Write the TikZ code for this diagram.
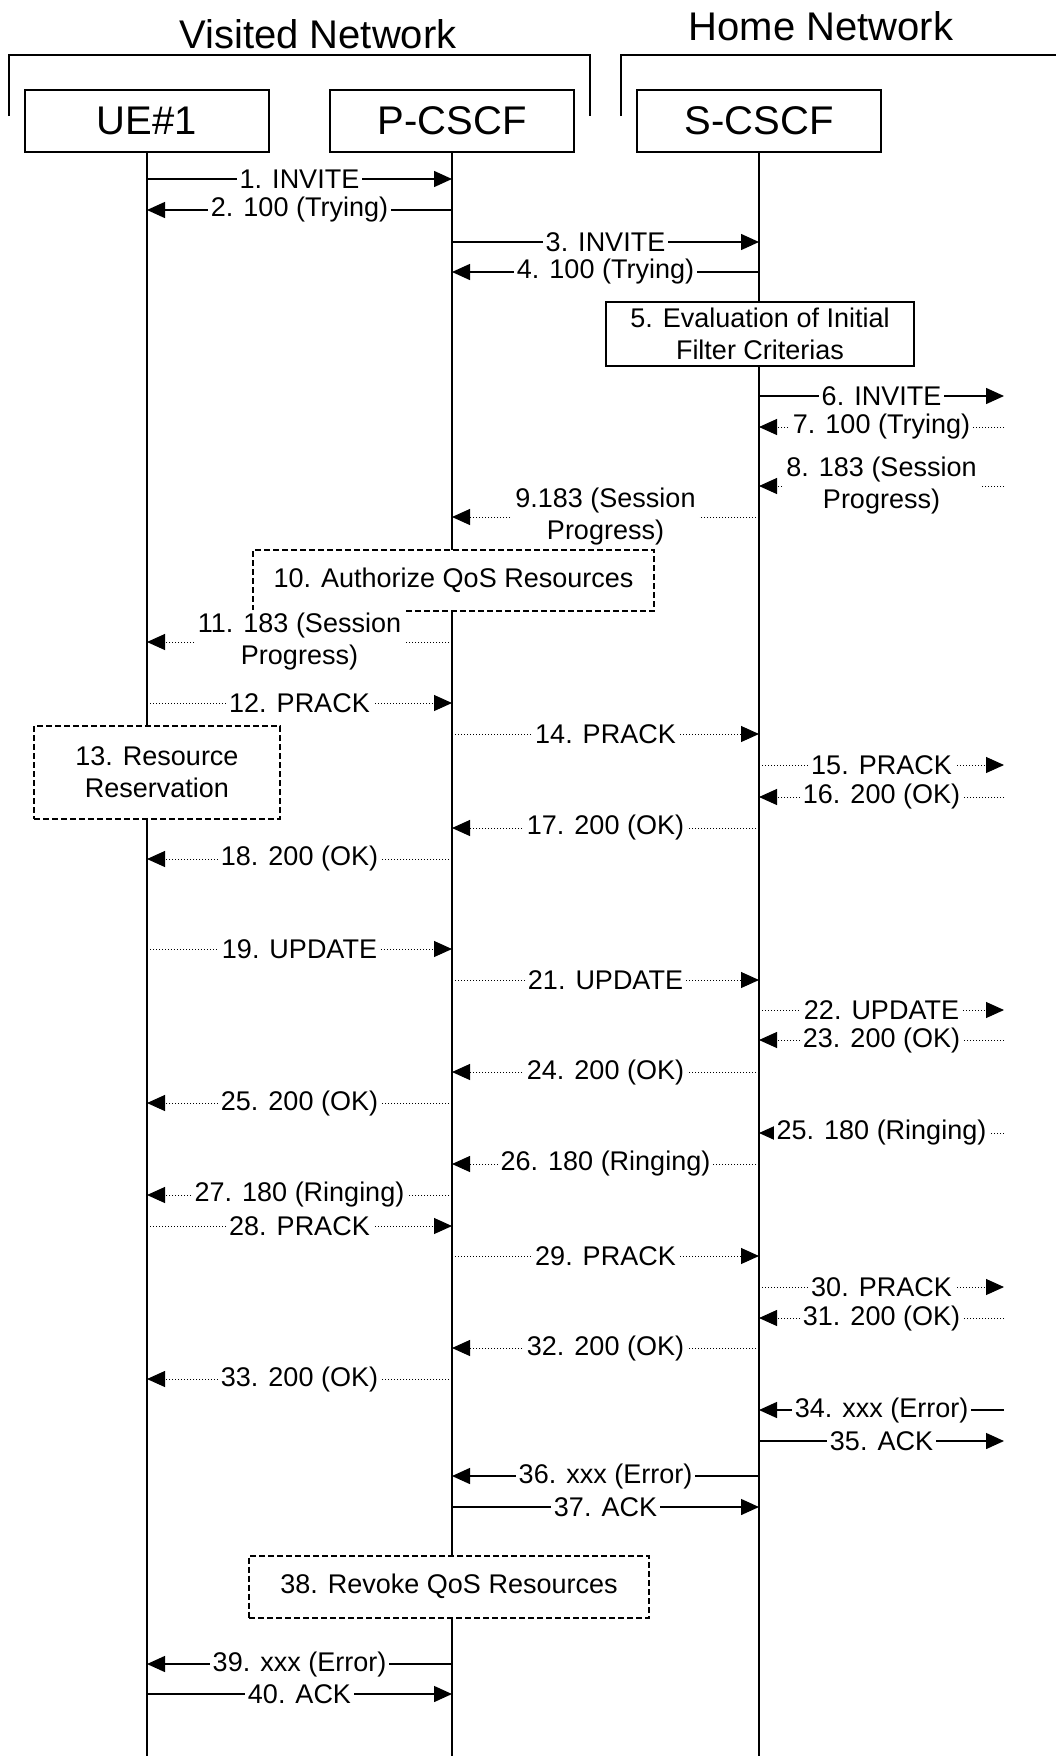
\documentclass[tikz,border=0pt]{standalone}
\usepackage{fontspec}
\setmainfont{Liberation Sans}
\usetikzlibrary{arrows.meta}

\begin{document}
\begin{tikzpicture}[x=0.5pt,y=-0.5pt,
  actor/.style={draw,line width=0.8pt,minimum width=122pt,minimum height=31pt,inner sep=0pt,font=\fontsize{20}{24}\selectfont},
  nettitle/.style={anchor=base,inner sep=0pt,font=\fontsize{20}{24}\selectfont},
  lifeline/.style={line width=0.8pt},
  sol/.style={line width=0.7pt,-{Triangle[length=9pt,width=8pt]}},
  dot/.style={line width=0.5pt,densely dotted,-{Triangle[length=9pt,width=8pt]}},
  lbl/.style={fill=white,inner sep=1.5pt,align=center,font=\fontsize{13.5}{16}\selectfont},
  note/.style={draw,fill=white,line width=0.8pt,align=center,inner sep=0pt,font=\fontsize{13.5}{16}\selectfont},
  dnote/.style={note,line width=1pt,dash pattern=on 3pt off 1.5pt}]
\useasboundingbox (0,0) rectangle (1056,1756);
% networks
\node [nettitle] (visited) at (318,48) {Visited Network};
\node [nettitle] (home) at (821,40) {Home Network};
\draw [lifeline] (9,116) -- (9,55) -- (590,55) -- (590,116);
\draw [lifeline] (621,116) -- (621,55) -- (1056,55);
% entities
\node [actor] (ue) at (147,121) {UE\#1};
\node [actor] (pc) at (452,121) {P-CSCF};
\node [actor] (sc) at (759,121) {S-CSCF};
\coordinate (bot) at (0,1756);
\coordinate (ext) at (1004,0);
\draw [lifeline] (ue.south) -- (ue.south |- bot);
\draw [lifeline] (pc.south) -- (pc.south |- bot);
\draw [lifeline] (sc.south) -- (sc.south |- bot);
% messages
\draw [sol] (ue |- 0,179) -- node [lbl] {1. INVITE} (pc |- 0,179);
\draw [sol] (pc |- 0,210) -- node [lbl] {2. 100 (Trying)} (ue |- 0,210);
\draw [sol] (pc |- 0,242) -- node [lbl] {3. INVITE} (sc |- 0,242);
\draw [sol] (sc |- 0,272) -- node [lbl] {4. 100 (Trying)} (pc |- 0,272);
\node [note,minimum width=154pt,minimum height=32pt] (eval) at (760,334) {5. Evaluation of Initial\\Filter Criterias};
\draw [sol] (sc |- 0,396) -- node [lbl] {6. INVITE} (ext |- 0,396);
\draw [dot] (ext |- 0,427) -- node [lbl] {7. 100 (Trying)} (sc |- 0,427);
\draw [dot] (ext |- 0,486) -- node [lbl] {8. 183 (Session\\Progress)} (sc |- 0,486);
\draw [dot] (sc |- 0,517) -- node [lbl] {9.183 (Session\\Progress)} (pc |- 0,517);
\node [dnote,minimum width=200.5pt,minimum height=30.5pt] (authqos) at (453.5,580.5) {10. Authorize QoS Resources};
\draw [dot] (pc |- 0,642) -- node [lbl] {11. 183 (Session\\Progress)} (ue |- 0,642);
\draw [dot] (ue |- 0,703) -- node [lbl] {12. PRACK} (pc |- 0,703);
\node [dnote,minimum width=123pt,minimum height=46.5pt] (resv) at (157,772.5) {13. Resource\\Reservation};
\draw [dot] (pc |- 0,734) -- node [lbl] {14. PRACK} (sc |- 0,734);
\draw [dot] (sc |- 0,765) -- node [lbl] {15. PRACK} (ext |- 0,765);
\draw [dot] (ext |- 0,797) -- node [lbl] {16. 200 (OK)} (sc |- 0,797);
\draw [dot] (sc |- 0,828) -- node [lbl] {17. 200 (OK)} (pc |- 0,828);
\draw [dot] (pc |- 0,859) -- node [lbl] {18. 200 (OK)} (ue |- 0,859);
\draw [dot] (ue |- 0,949) -- node [lbl] {19. UPDATE} (pc |- 0,949);
\draw [dot] (pc |- 0,980) -- node [lbl] {21. UPDATE} (sc |- 0,980);
\draw [dot] (sc |- 0,1010) -- node [lbl] {22. UPDATE} (ext |- 0,1010);
\draw [dot] (ext |- 0,1040) -- node [lbl] {23. 200 (OK)} (sc |- 0,1040);
\draw [dot] (sc |- 0,1072) -- node [lbl] {24. 200 (OK)} (pc |- 0,1072);
\draw [dot] (pc |- 0,1103) -- node [lbl] {25. 200 (OK)} (ue |- 0,1103);
\draw [dot] (ext |- 0,1133) -- node [lbl] {25. 180 (Ringing)} (sc |- 0,1133);
\draw [dot] (sc |- 0,1164) -- node [lbl] {26. 180 (Ringing)} (pc |- 0,1164);
\draw [dot] (pc |- 0,1195) -- node [lbl] {27. 180 (Ringing)} (ue |- 0,1195);
\draw [dot] (ue |- 0,1226) -- node [lbl] {28. PRACK} (pc |- 0,1226);
\draw [dot] (pc |- 0,1256) -- node [lbl] {29. PRACK} (sc |- 0,1256);
\draw [dot] (sc |- 0,1287) -- node [lbl] {30. PRACK} (ext |- 0,1287);
\draw [dot] (ext |- 0,1318) -- node [lbl] {31. 200 (OK)} (sc |- 0,1318);
\draw [dot] (sc |- 0,1348) -- node [lbl] {32. 200 (OK)} (pc |- 0,1348);
\draw [dot] (pc |- 0,1379) -- node [lbl] {33. 200 (OK)} (ue |- 0,1379);
\draw [sol] (ext |- 0,1410) -- node [lbl] {34. xxx (Error)} (sc |- 0,1410);
\draw [sol] (sc |- 0,1441) -- node [lbl] {35. ACK} (ext |- 0,1441);
\draw [sol] (sc |- 0,1476) -- node [lbl] {36. xxx (Error)} (pc |- 0,1476);
\draw [sol] (pc |- 0,1507) -- node [lbl] {37. ACK} (sc |- 0,1507);
\node [dnote,minimum width=200pt,minimum height=31pt] (revqos) at (449,1586.5) {38. Revoke QoS Resources};
\draw [sol] (pc |- 0,1664) -- node [lbl] {39. xxx (Error)} (ue |- 0,1664);
\draw [sol] (ue |- 0,1694) -- node [lbl] {40. ACK} (pc |- 0,1694);
\end{tikzpicture}
\end{document}
